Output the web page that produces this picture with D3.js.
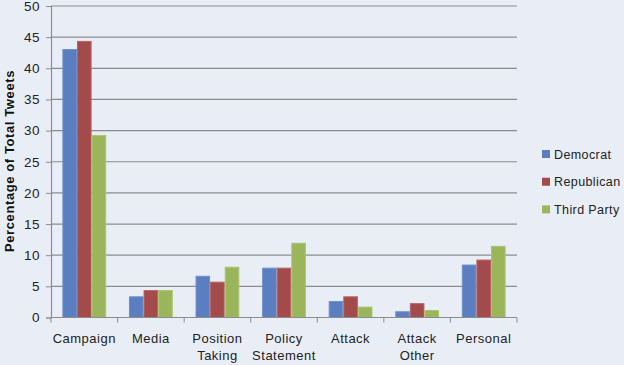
<!DOCTYPE html>
<html><head><meta charset="utf-8">
<script src="https://cdn.jsdelivr.net/npm/d3@7"></script>
<style>body{margin:0;background:#e9eef6;}svg{display:block;font-family:"Liberation Sans",Arial,sans-serif;}</style>
</head><body><svg id="c" width="624" height="365"></svg>
<script>
const categories = [["Campaign"],["Media"],["Position","Taking"],["Policy","Statement"],["Attack"],["Attack","Other"],["Personal"]];
const seriesNames = ["Democrat","Republican","Third Party"];
const democrat   = [43.1, 3.4, 6.7, 8.0, 2.65, 1.0, 8.5];
const republican = [44.4, 4.4, 5.75, 8.0, 3.4, 2.3, 9.3];
const thirdParty = [29.3, 4.4, 8.15, 12.0, 1.75, 1.2, 11.5];
const yTicks = [0,5,10,15,20,25,30,35,40,45,50];
const colors = ["#5a7ebf","#a34b4b","#9bb55a"];
const borders = ["#7090cc","#b86262","#aec46f"];

const series = [democrat, republican, thirdParty];
const svg = d3.select("#c");
svg.append("rect").attr("width",624).attr("height",365).attr("fill","#e9eef6");
const m = {l:51, r:517, t:6, b:317.5};
const x = d3.scaleBand().domain(categories.map((c,i)=>i)).range([m.l,m.r]);
const xi = d3.scaleBand().domain([0,1,2]).range([0, 43.8]);
const y = d3.scaleLinear().domain([0,50]).range([m.b,m.t]);

// gridlines
svg.append("g").selectAll("line").data(yTicks.filter(d=>d>0)).join("line")
  .attr("x1",m.l).attr("x2",m.r).attr("y1",d=>y(d)).attr("y2",d=>y(d))
  .attr("stroke","#8c8c8c").attr("stroke-width",1.2);

// bars
const groups = svg.append("g").selectAll("g").data(categories.map((c,i)=>i)).join("g")
  .attr("transform",i=>`translate(${x(i)+(x.bandwidth()-43.8)/2},0)`);
groups.selectAll("rect").data(i=>series.map((s,k)=>({k,v:s[i]}))).join("rect")
  .attr("x",d=>xi(d.k)+0.5).attr("width",xi.bandwidth()-1)
  .attr("y",d=>y(d.v)+0.5).attr("height",d=>y(0)-y(d.v)-0.5)
  .attr("fill",d=>colors[d.k]).attr("stroke",d=>borders[d.k]).attr("stroke-width",1);

// y axis
const ya = svg.append("g").attr("transform",`translate(${m.l},0)`)
  .call(d3.axisLeft(y).tickValues(yTicks).tickSize(5).tickPadding(6));
ya.select(".domain").attr("stroke","#8c8c8c").attr("stroke-width",1.2);
ya.selectAll(".tick line").attr("stroke","#8c8c8c");
ya.selectAll("text").attr("font-size",13.5).attr("fill","#222").attr("letter-spacing",0.5);

// x axis
svg.append("line").attr("x1",m.l).attr("x2",m.r).attr("y1",m.b).attr("y2",m.b).attr("stroke","#8c8c8c").attr("stroke-width",1.2);
const bounds = categories.map((c,i)=>x(i)).concat([m.r]);
svg.append("g").selectAll("line").data(bounds).join("line")
  .attr("x1",d=>d).attr("x2",d=>d).attr("y1",m.b).attr("y2",m.b+5).attr("stroke","#8c8c8c");
svg.append("g").selectAll("text").data(categories.map((c,i)=>({c,i}))).join("text")
  .attr("x",d=>x(d.i)+x.bandwidth()/2).attr("y",343).attr("text-anchor","middle")
  .attr("font-size",13).attr("fill","#222").attr("letter-spacing",0.5)
  .selectAll("tspan").data(d=>d.c).join("tspan")
  .attr("x",function(){return d3.select(this.parentNode).attr("x");})
  .attr("dy",(d,j)=>j===0?0:17).text(d=>d);

// y title
svg.append("text").attr("transform","translate(14,161) rotate(-90)")
  .attr("text-anchor","middle").attr("font-size",13).attr("font-weight","bold").attr("fill","#111")
  .attr("letter-spacing",0.6)
  .text("Percentage of Total Tweets");

// legend
const lg = svg.append("g").selectAll("g").data(seriesNames).join("g")
  .attr("transform",(d,i)=>`translate(542,${154+i*27.7})`);
lg.append("rect").attr("x",0).attr("y",-4).attr("width",8).attr("height",8).attr("fill",(d,i)=>colors[i]);
lg.append("text").attr("x",12).attr("y",4.5).attr("font-size",12.5).attr("fill","#222").attr("letter-spacing",0.4).text(d=>d);
</script></body></html>
